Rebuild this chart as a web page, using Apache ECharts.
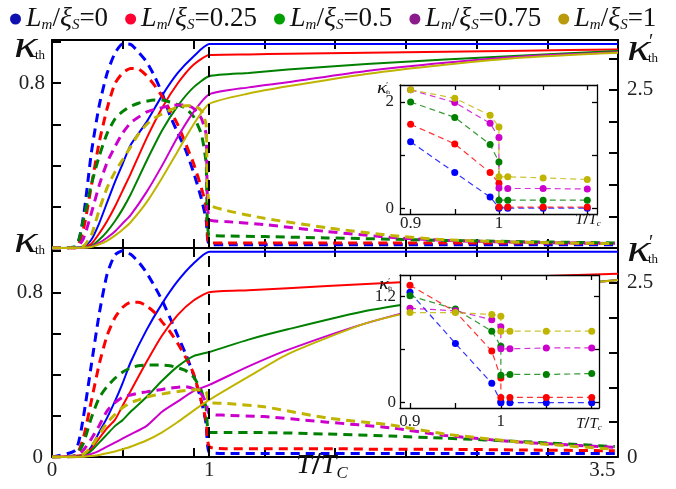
<!DOCTYPE html>
<html>
<head>
<meta charset="utf-8">
<script src="https://cdn.jsdelivr.net/npm/echarts@6/dist/echarts.min.js"></script>
<style>html,body{margin:0;padding:0;background:#fff;}</style>
</head>
<body>
<div id="main" style="width:676px;height:489px;"></div>
<script>
// L_m / xi_S values, one curve colour per value
var ratios = ['0', '0.25', '0.5', '0.75', '1'];
var lineColors = ['#0000ff', '#ff0000', '#008000', '#cc00cc', '#bfb400'];
var dotColors = ['#1010b0', '#ff0030', '#00a000', '#8b1a8b', '#b89a0a'];

// main panels, T/Tc samples
var tSolid = [0, 0.2, 0.25, 0.3, 0.35, 0.4, 0.45, 0.5, 0.6, 0.7, 0.8, 0.9, 1.0, 1.25, 1.5, 2.0, 2.5, 3.0, 3.6];
var tDash = [0, 0.15, 0.2, 0.25, 0.3, 0.35, 0.4, 0.45, 0.5, 0.55, 0.6, 0.65, 0.7, 0.75, 0.8, 0.85, 0.9, 0.95, 0.98, 1.0, 1.1, 1.35, 1.75, 2.15, 2.5, 3.0, 3.58];

// upper panel, kappa_th (solid)
var topSolid0   = [0, 0.005, 0.04, 0.12, 0.22, 0.32, 0.41, 0.5, 0.61, 0.74, 0.85, 0.93, 0.99, 0.99, 0.99, 0.99, 0.99, 0.99, 0.99];
var topSolid25  = [0, 0.003, 0.02, 0.07, 0.13, 0.2, 0.28, 0.36, 0.53, 0.68, 0.8, 0.89, 0.937, 0.94, 0.943, 0.948, 0.953, 0.958, 0.964];
var topSolid50  = [0, 0.002, 0.01, 0.04, 0.08, 0.13, 0.19, 0.26, 0.42, 0.57, 0.69, 0.78, 0.834, 0.85, 0.867, 0.893, 0.915, 0.935, 0.956];
var topSolid75  = [0, 0.001, 0.008, 0.025, 0.05, 0.08, 0.12, 0.16, 0.27, 0.4, 0.54, 0.66, 0.746, 0.78, 0.805, 0.86, 0.9, 0.93, 0.95];
var topSolid100 = [0, 0.001, 0.005, 0.018, 0.035, 0.06, 0.09, 0.125, 0.22, 0.34, 0.47, 0.6, 0.7, 0.75, 0.785, 0.845, 0.89, 0.925, 0.948];

// upper panel, kappa'_th (dashed, right axis)
var topDash0   = [0, 0.02, 0.5, 1.5, 2.25, 2.76, 3.08, 3.23, 3.22, 3.1, 2.95, 2.73, 2.45, 2.1, 1.82, 1.55, 1.2, 0.78, 0.45, 0.06, 0.05, 0.05, 0.05, 0.05, 0.05, 0.05, 0.05];
var topDash25  = [0, 0, 0.3, 0.98, 1.67, 2.2, 2.6, 2.77, 2.84, 2.83, 2.73, 2.58, 2.4, 2.18, 1.95, 1.65, 1.34, 0.95, 0.65, 0.08, 0.08, 0.08, 0.08, 0.08, 0.08, 0.08, 0.07];
var topDash50  = [0, 0.02, 0.45, 1.0, 1.45, 1.81, 2.04, 2.16, 2.24, 2.29, 2.32, 2.34, 2.34, 2.31, 2.27, 2.21, 2.08, 1.8, 1.35, 0.2, 0.19, 0.18, 0.16, 0.14, 0.12, 0.1, 0.08];
var topDash75  = [0, 0, 0.15, 0.55, 0.99, 1.35, 1.6, 1.82, 1.98, 2.07, 2.15, 2.19, 2.22, 2.25, 2.26, 2.26, 2.21, 2.05, 1.8, 0.45, 0.42, 0.37, 0.26, 0.17, 0.12, 0.09, 0.07];
var topDash100 = [0, 0, 0.03, 0.2, 0.6, 0.95, 1.2, 1.4, 1.6, 1.8, 1.95, 2.05, 2.12, 2.18, 2.23, 2.25, 2.25, 2.17, 1.95, 0.7, 0.6, 0.47, 0.32, 0.2, 0.13, 0.09, 0.07];

// lower panel, kappa_th (solid)
var botSolid0   = [0, 0.01, 0.05, 0.12, 0.19, 0.27, 0.36, 0.46, 0.615, 0.745, 0.855, 0.94, 0.997, 0.997, 0.997, 0.997, 0.997, 0.997, 0.997];
var botSolid25  = [0, 0.01, 0.04, 0.09, 0.14, 0.18, 0.25, 0.32, 0.46, 0.59, 0.69, 0.76, 0.8, 0.81, 0.82, 0.84, 0.86, 0.875, 0.89];
var botSolid50  = [0, 0.005, 0.03, 0.07, 0.11, 0.15, 0.18, 0.22, 0.29, 0.37, 0.44, 0.49, 0.51, 0.57, 0.62, 0.71, 0.77, 0.82, 0.86];
var botSolid75  = [0, 0.003, 0.015, 0.03, 0.05, 0.07, 0.09, 0.11, 0.15, 0.22, 0.27, 0.32, 0.35, 0.44, 0.52, 0.65, 0.75, 0.81, 0.86];
var botSolid100 = [0, 0.001, 0.005, 0.01, 0.018, 0.027, 0.038, 0.05, 0.08, 0.12, 0.17, 0.225, 0.277, 0.39, 0.5, 0.65, 0.74, 0.81, 0.86];

// lower panel, kappa'_th (dashed, right axis)
var botDash0   = [0, 0.1, 0.58, 1.32, 2.05, 2.62, 2.9, 2.96, 2.91, 2.8, 2.65, 2.46, 2.25, 2.0, 1.74, 1.48, 1.18, 0.8, 0.48, 0.07, 0.05, 0.05, 0.05, 0.05, 0.05, 0.05, 0.05];
var botDash25  = [0, 0.02, 0.28, 0.8, 1.33, 1.74, 2.0, 2.15, 2.22, 2.22, 2.17, 2.08, 1.94, 1.8, 1.63, 1.43, 1.2, 0.8, 0.52, 0.15, 0.12, 0.12, 0.12, 0.11, 0.11, 0.1, 0.09];
var botDash50  = [0, 0.02, 0.2, 0.56, 0.85, 1.01, 1.13, 1.22, 1.28, 1.31, 1.32, 1.32, 1.32, 1.31, 1.28, 1.24, 1.15, 0.95, 0.7, 0.35, 0.35, 0.35, 0.33, 0.3, 0.27, 0.22, 0.15];
var botDash75  = [0, 0.01, 0.1, 0.26, 0.45, 0.66, 0.78, 0.86, 0.89, 0.915, 0.935, 0.955, 0.97, 0.99, 1.0, 1.01, 0.98, 0.9, 0.78, 0.62, 0.6, 0.58, 0.5, 0.42, 0.31, 0.21, 0.14];
var botDash100 = [0, 0, 0.04, 0.15, 0.32, 0.49, 0.61, 0.71, 0.78, 0.82, 0.86, 0.885, 0.905, 0.925, 0.94, 0.955, 0.965, 0.965, 0.94, 0.78, 0.77, 0.72, 0.56, 0.46, 0.33, 0.21, 0.11];

// insets, T/Tc near the transition (two points at 1.0: above and below)
var tInset = [0.9, 0.95, 0.99, 1.0, 1.0, 1.01, 1.05, 1.1];
var insTop0   = [1.25, 0.67, 0.21, 0.01, 0.0, 0.0, 0.0, 0.0];
var insTop25  = [1.58, 1.21, 0.67, 0.47, 0.02, 0.02, 0.02, 0.02];
var insTop50  = [2.0, 1.71, 1.2, 0.87, 0.15, 0.15, 0.15, 0.15];
var insTop75  = [2.23, 1.99, 1.6, 1.33, 0.38, 0.37, 0.37, 0.36];
var insTop100 = [2.23, 2.07, 1.75, 1.53, 0.59, 0.59, 0.57, 0.54];
var insBot0   = [1.25, 0.67, 0.22, 0.01, 0.0, 0.0, 0.0, 0.0];
var insBot25  = [1.33, 1.03, 0.585, 0.28, 0.06, 0.06, 0.06, 0.06];
var insBot50  = [1.21, 1.06, 0.81, 0.64, 0.31, 0.32, 0.32, 0.33];
var insBot75  = [1.07, 1.04, 0.94, 0.86, 0.61, 0.61, 0.62, 0.62];
var insBot100 = [1.02, 1.02, 1.0, 0.98, 0.81, 0.81, 0.81, 0.81];

var topSolid = [topSolid0, topSolid25, topSolid50, topSolid75, topSolid100];
var topDash = [topDash0, topDash25, topDash50, topDash75, topDash100];
var botSolid = [botSolid0, botSolid25, botSolid50, botSolid75, botSolid100];
var botDash = [botDash0, botDash25, botDash50, botDash75, botDash100];
var insTop = [insTop0, insTop25, insTop50, insTop75, insTop100];
var insBot = [insBot0, insBot25, insBot50, insBot75, insBot100];

var serif = 'Liberation Serif';

function pairs(xs, ys) {
  return xs.map(function (x, i) { return [x, ys[i]]; });
}

function curve(i, xs, ys, dashed, xi, yi) {
  return {
    name: ratios[i], type: 'line', xAxisIndex: xi, yAxisIndex: yi,
    data: pairs(xs, ys), symbol: 'none', smooth: 0.2, z: 1, silent: true,
    itemStyle: { color: lineColors[i] },
    lineStyle: { color: lineColors[i], width: dashed ? 3 : 2, type: dashed ? [9, 6] : 'solid' }
  };
}

function dots(i, ys, xi, yi) {
  return {
    name: ratios[i], type: 'line', xAxisIndex: xi, yAxisIndex: yi,
    data: pairs(tInset, ys), symbol: 'circle', symbolSize: 7, z: 6, silent: true,
    itemStyle: { color: lineColors[i] },
    lineStyle: { color: lineColors[i], width: 1.2, type: [6, 4], opacity: 0.8 }
  };
}

var vline = {
  silent: true, symbol: ['none', 'none'], label: { show: false },
  lineStyle: { color: '#000', type: [11, 8], width: 2 },
  data: [{ xAxis: 1 }]
};

var series = [];
for (var i = 0; i < 5; i++) {
  series.push(curve(i, tDash, topDash[i], true, 0, 1));
  series.push(curve(i, tSolid, topSolid[i], false, 0, 0));
  series.push(curve(i, tDash, botDash[i], true, 2, 3));
  series.push(curve(i, tSolid, botSolid[i], false, 2, 2));
  series.push(dots(i, insTop[i], 4, 4));
  series.push(dots(i, insBot[i], 6, 6));
}
series[0].markLine = vline;
series[2].markLine = vline;

// one axis (x or y) with inward ticks; labels only at the given values
function axis(grid, pos, opt) {
  var a = {
    type: 'value', gridIndex: grid, position: pos, min: opt.min, max: opt.max,
    axisLine: { onZero: false, lineStyle: { color: '#000', width: opt.lw } },
    axisTick: { inside: true, length: opt.tl, lineStyle: { color: '#000', width: opt.lw } },
    axisLabel: { show: false },
    splitLine: { show: false }, z: opt.z
  };
  if (opt.interval) a.interval = opt.interval;
  if (opt.ticks) a.axisTick.customValues = opt.ticks;
  if (opt.labels) {
    a.axisLabel = { show: true, customValues: opt.labels, fontFamily: serif, fontSize: opt.fs,
      color: '#222', margin: opt.margin };
  }
  return a;
}

function withLabels(base, labels, fs, margin) {
  return Object.assign({}, base, { labels: labels, fs: fs, margin: margin });
}

var mainX = { min: 0, max: 3.6, interval: 0.45, lw: 2, tl: 9, z: 0 };
var insX1 = { min: 0.888, max: 1.111, ticks: [0.9, 0.95, 1, 1.05, 1.1], lw: 1.3, tl: 5, z: 4 };
var insX2 = { min: 0.889, max: 1.108, ticks: [0.9, 0.95, 1, 1.05, 1.1], lw: 1.3, tl: 5, z: 4 };
var insY1 = { min: -0.11, max: 2.32, ticks: [0, 1, 2], lw: 1.3, tl: 5, z: 4 };
var insY2 = { min: -0.06, max: 1.446, ticks: [0, 0.6, 1.2], lw: 1.3, tl: 5, z: 4 };

var xAxes = [
  axis(0, 'bottom', mainX),
  axis(0, 'top', mainX),
  axis(1, 'bottom', withLabels(mainX, [0, 1, 3.5], 21, 3)),
  axis(1, 'top', mainX),
  axis(2, 'bottom', withLabels(insX1, [0.9, 1], 17, 1)),
  axis(2, 'top', insX1),
  axis(3, 'bottom', withLabels(insX2, [0.9, 1], 17, 5)),
  axis(3, 'top', insX2)
];

var yAxes = [
  axis(0, 'left', { min: 0, max: 1.01, interval: 0.2, lw: 2, tl: 9, labels: [0.8], fs: 21, margin: 7, z: 0 }),
  axis(0, 'right', { min: 0, max: 3.29, interval: 0.5, lw: 2, tl: 9, labels: [2.5], fs: 21, margin: 9, z: 0 }),
  axis(1, 'left', { min: 0, max: 1.015, interval: 0.2, lw: 2, tl: 9, labels: [0, 0.8], fs: 21, margin: 9, z: 0 }),
  axis(1, 'right', { min: 0, max: 3.0, interval: 0.5, lw: 2, tl: 9, labels: [0, 2.5], fs: 21, margin: 9, z: 0 }),
  axis(2, 'left', withLabels(insY1, [0, 2], 17, 6)),
  axis(2, 'right', insY1),
  axis(3, 'left', withLabels(insY2, [0, 1.2], 17, 4)),
  axis(3, 'right', insY2)
];

function txt(x, y, s, size, italic, sx) {
  return {
    type: 'text', x: x, y: y, z: 10, scaleX: sx || 1,
    style: { text: s, fontFamily: serif, fontSize: size, fontStyle: italic ? 'italic' : 'normal',
      fill: '#111', align: 'left', verticalAlign: 'middle' }
  };
}

// kappa with "th" below and optional prime above, (x, y) = left edge / vertical centre of the glyph
function kappa(x, y, big, prime) {
  var s = big / 38;
  var els = [txt(x, y, 'κ', big, true, 1.3), txt(x + 21 * s, y + 9 * s, 'th', 13 * s, false)];
  if (prime) els.push(txt(x + 22 * s, y - 7 * s, '′', 20 * s, false));
  return els;
}

function tOverTc(x, y, size, sub) {
  return {
    type: 'text', x: x, y: y, z: 10,
    style: {
      text: '{t|T}{s|/}{t|T}{c|' + sub + '}', fontFamily: serif, fill: '#111', align: 'center', verticalAlign: 'middle',
      rich: {
        t: { fontFamily: serif, fontStyle: 'italic', fontSize: size },
        s: { fontFamily: serif, fontWeight: 'bold', fontSize: size * 1.15 },
        c: { fontFamily: serif, fontStyle: 'italic', fontSize: size * 0.6, verticalAlign: 'bottom', lineHeight: size * 0.3 }
      }
    }
  };
}

var graphics = []
  .concat(kappa(14, 47, 38, false))
  .concat(kappa(14, 242, 38, false))
  .concat(kappa(627, 50, 38, true))
  .concat(kappa(627, 251, 38, true))
  .concat(kappa(377, 89, 16, true))
  .concat(kappa(379, 285, 16, true))
  .concat([tOverTc(322, 466, 28, 'C'), tOverTc(588, 220, 15, 'c'), tOverTc(589, 424, 15, 'c')]);

var chart = echarts.init(document.getElementById('main'));
chart.setOption({
  animation: false,
  backgroundColor: '#fff',
  legend: {
    data: ratios.map(function (r, i) { return { name: r, itemStyle: { color: dotColors[i] } }; }),
    top: 0, left: 5, itemGap: 17, itemWidth: 11, itemHeight: 11, icon: 'circle', selectedMode: false,
    formatter: function (name) {
      return '{it|L}{sub|m}{n|/}{it|ξ}{sub|S}{n|=' + name + '}';
    },
    textStyle: {
      fontFamily: serif, fontSize: 27, color: '#111',
      rich: {
        it: { fontFamily: serif, fontStyle: 'italic', fontSize: 28 },
        sub: { fontFamily: serif, fontStyle: 'italic', fontSize: 15, verticalAlign: 'bottom', lineHeight: 10 },
        n: { fontFamily: serif, fontSize: 27 }
      }
    }
  },
  grid: [
    { left: 52, top: 40, width: 566, height: 208, outerBoundsMode: 'none' },
    { left: 52, top: 248, width: 566, height: 209, outerBoundsMode: 'none' },
    { left: 400, top: 85, width: 197, height: 129, show: true, backgroundColor: '#fff', borderWidth: 0, z: 3, outerBoundsMode: 'none' },
    { left: 400, top: 275, width: 199, height: 133, show: true, backgroundColor: '#fff', borderWidth: 0, z: 3, outerBoundsMode: 'none' }
  ],
  xAxis: xAxes,
  yAxis: yAxes,
  graphic: graphics,
  series: series
});
</script>
</body>
</html>
